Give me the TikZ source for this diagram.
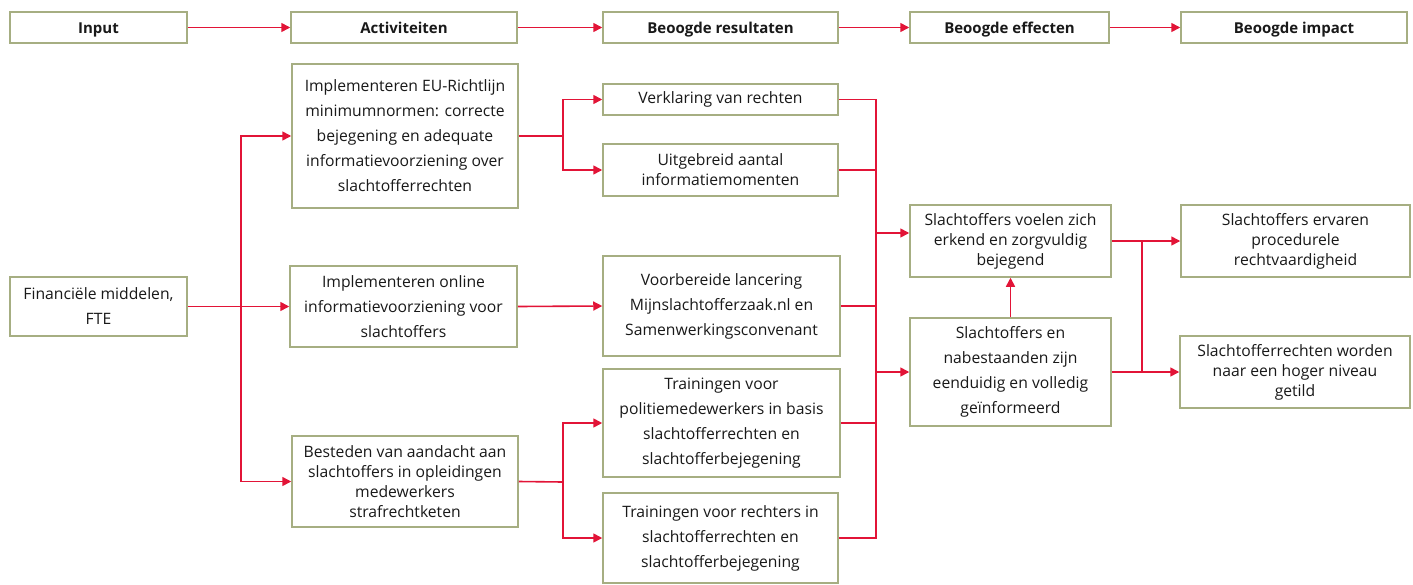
\documentclass[tikz,border=0pt]{standalone}
\usepackage{fontspec}
\setmainfont{Open Sans}
\usetikzlibrary{arrows.meta}
\definecolor{boxc}{RGB}{166,174,130}
\definecolor{redc}{RGB}{226,20,55}
\definecolor{txtc}{RGB}{25,25,25}
\tikzset{
  box/.style={draw=boxc, line width=1.5pt, fill=white, inner sep=2pt, align=center,
    text=txtc, font=\fontsize{15.7}{25}\selectfont},
  hdr/.style={box, minimum height=31pt, text height=12.5pt, text depth=1.5pt,
    font=\bfseries\fontsize{15}{20}\selectfont},
  ln/.style={draw=redc, line width=1.6pt},
  arr/.style={ln, -{Triangle[length=9pt,width=9pt]}}
}
\begin{document}
\begin{tikzpicture}[x=1pt,y=-1pt]
\useasboundingbox (0,0) rectangle (1413,584);
% headers
\node[hdr, minimum width=177pt] (hIn) at (98.5,27.5) {Input};
\node[hdr, minimum width=226pt] (hAct) at (404,27.5) {Activiteiten};
\node[hdr, minimum width=235pt] (hRes) at (720.5,27.5) {Beoogde resultaten};
\node[hdr, minimum width=199pt] (hEff) at (1009.5,27.5) {Beoogde effecten};
\node[hdr, minimum width=226pt] (hImp) at (1294,27.5) {Beoogde impact};
\draw[arr] (hIn.east) -- (hAct.west);
\draw[arr] (hAct.east) -- (hRes.west);
\draw[arr] (hRes.east) -- (hEff.west);
\draw[arr] (hEff.east) -- (hImp.west);
% input
\node[box, minimum width=177pt, minimum height=59pt] (Fin) at (98.5,306.5) {Financiële middelen,\\FTE};
% activities
\node[box, minimum width=226pt, minimum height=144pt] (A1) at (405,136) {Implementeren EU-Richtlijn\\minimumnormen: correcte\\bejegening en adequate\\informatievoorziening over\\slachtofferrechten};
\node[box, minimum width=227pt, minimum height=81pt] (A2) at (403.5,306.5) {Implementeren online\\informatievoorziening voor\\slachtoffers};
\node[box, minimum width=226pt, minimum height=91pt, font=\fontsize{15.7}{20}\selectfont] (A3) at (405,481.5) {Besteden van aandacht aan\\slachtoffers in opleidingen\\medewerkers\\strafrechtketen};
% results
\node[box, minimum width=235pt, minimum height=31pt] (R1) at (720.5,99.5) {Verklaring van rechten};
\node[box, minimum width=235pt, minimum height=52pt, font=\fontsize{15.7}{20}\selectfont] (R2) at (720.5,170) {Uitgebreid aantal\\informatiemomenten};
\node[box, minimum width=237pt, minimum height=100pt] (R3) at (721.5,306) {Voorbereide lancering\\Mijnslachtofferzaak.nl en\\Samenwerkingsconvenant};
\node[box, minimum width=237pt, minimum height=108pt] (R4) at (721.5,423) {Trainingen voor\\politiemedewerkers in basis\\slachtofferrechten en\\slachtofferbejegening};
\node[box, minimum width=235pt, minimum height=90pt] (R5) at (720.5,538) {Trainingen voor rechters in\\slachtofferrechten en\\slachtofferbejegening};
% effects
\node[box, minimum width=201pt, minimum height=72pt, font=\fontsize{15.7}{20}\selectfont] (E1) at (1010.5,241) {Slachtoffers voelen zich\\erkend en zorgvuldig\\bejegend};
\node[box, minimum width=201pt, minimum height=108pt] (E2) at (1010.5,372) {Slachtoffers en\\nabestaanden zijn\\eenduidig en volledig\\geïnformeerd};
% impact
\node[box, minimum width=229pt, minimum height=72pt, font=\fontsize{15.7}{20}\selectfont] (I1) at (1295.5,241) {Slachtoffers ervaren\\procedurele\\rechtvaardigheid};
\node[box, minimum width=230pt, minimum height=72pt, font=\fontsize{15.7}{20}\selectfont] (I2) at (1295,372) {Slachtofferrechten worden\\naar een hoger niveau\\getild};
% connectors input -> activities
\coordinate (fb) at (241,306);
\draw[arr] (Fin.east) -- (A2.west);
\draw[ln] (fb |- A1.west) -- (fb |- A3.west);
\draw[arr] (fb) |- (A1.west);
\draw[arr] (fb) |- (A3.west);
% activities -> results
\coordinate (ab1) at (563,136);
\coordinate (ab3) at (563,482);
\draw[ln] (A1.east) -- (ab1);
\draw[arr] (ab1) |- (R1.west);
\draw[arr] (ab1) |- (R2.west);
\draw[arr] (A2.east) -- (R3.west);
\draw[ln] (A3.east) -- (ab3);
\draw[arr] (ab3) |- (R4.west);
\draw[arr] (ab3) |- (R5.west);
% results -> effects
\coordinate (rbE1) at (876,233);
\coordinate (rbE2) at (876,372);
\draw[ln] (R1.east) -| (rbE2);
\draw[ln] (R2.east) -| (rbE2);
\draw[ln] (R3.east) -| (rbE2);
\draw[ln] (R4.east) -| (rbE2);
\draw[ln] (R5.east) -| (rbE2);
\draw[arr] (rbE1) -- (E1.west |- rbE1);
\draw[arr] (rbE2) -- (E2.west);
\draw[arr] (E2.north) -- (E1.south);
% effects -> impact
\coordinate (ib) at (1142,241);
\draw[arr] (E1.east) -- (I1.west);
\draw[arr] (E2.east) -- (I2.west);
\draw[ln] (ib) -- (ib |- E2.east);
\end{tikzpicture}
\end{document}
